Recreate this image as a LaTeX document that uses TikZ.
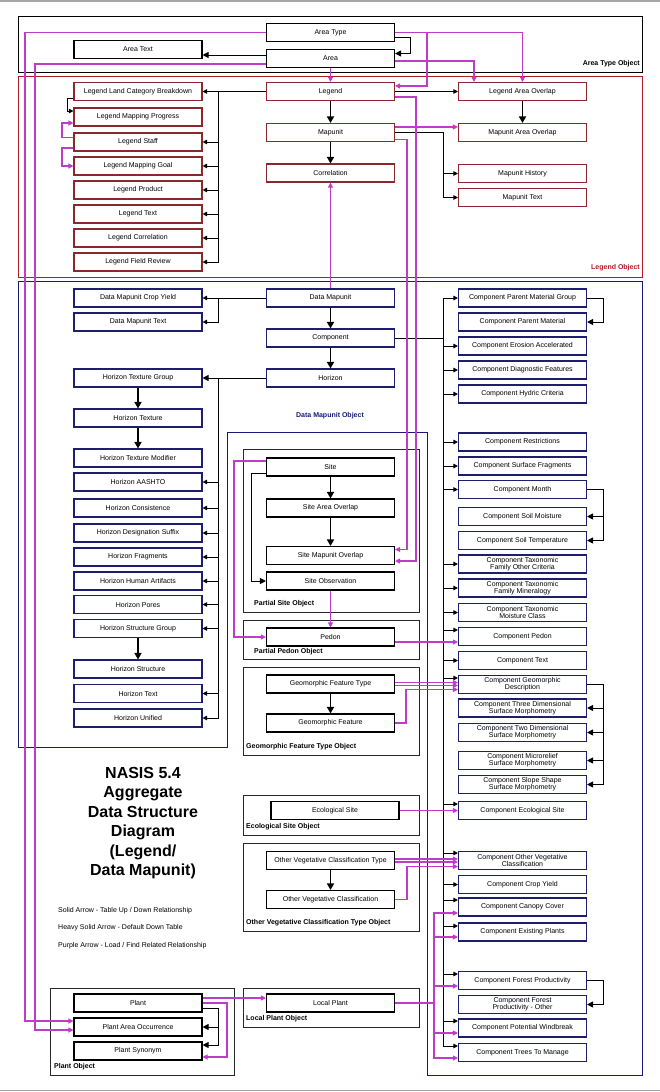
\documentclass[tikz,border=0pt]{standalone}
\usepackage{fontspec}
\setmainfont{Liberation Sans}
\usetikzlibrary{arrows.meta,calc}
\definecolor{purp}{RGB}{190,60,200}
\definecolor{lred}{RGB}{140,40,45}
\definecolor{fred}{RGB}{175,30,40}
\definecolor{nvy}{RGB}{30,30,110}
\definecolor{fnvy}{RGB}{25,25,120}
\definecolor{frm}{RGB}{40,40,40}
\newcommand\nbox[5]{\node[box,draw=#1] (#2) at (#3,#4) {#5};}
\begin{document}
\begin{tikzpicture}[x=1pt,y=-1pt,
  box/.style={fill=white, line width=1.1pt, minimum width=128pt, minimum height=18pt, inner sep=0pt, align=center, font=\fontsize{7}{7.3}\selectfont, text=black},
  lbl/.style={font=\fontsize{7}{8}\selectfont\bfseries, inner sep=0pt},
  frame/.style={draw=frm, line width=1pt},
  blk/.style={draw=black, line width=0.9pt, -{Triangle[length=4.5pt,width=4.5pt]}},
  blkH/.style={draw=black, line width=1pt, -{Triangle[length=6pt,width=6pt]}},
  hvy/.style={draw=black, line width=1.5pt, -{Triangle[length=6.5pt,width=7pt]}},
  pur/.style={draw=purp, line width=1.1pt, -{Triangle[length=5pt,width=5pt]}}]
\useasboundingbox (0,0) rectangle (660,1092);
\fill[white] (0,0) rectangle (660,1092);
\draw[gray!70, line width=1.5pt] (0,0.75) -- (660,0.75);
\draw[gray!70, line width=1.5pt] (0,1090.5) -- (660,1090.5);
% frames
\draw[frame, draw=black] (18,16) rectangle (642,72);
\draw[frame, draw=fred] (18,76) rectangle (642,277);
\draw[frame, draw=fnvy] (18,281) -- (642,281) -- (642,1075) -- (427,1075) -- (427,432) -- (227,432) -- (227,747) -- (18,747) -- cycle;
\draw[frame] (243,449) rectangle (419,612);
\draw[frame] (243,620) rectangle (419,659);
\draw[frame] (243,667) rectangle (419,755);
\draw[frame] (243,795) rectangle (419,835);
\draw[frame] (243,843) rectangle (419,931);
\draw[frame] (50,988) rectangle (234,1075);
\draw[frame] (243,988) rectangle (419,1027);
\node[lbl, anchor=east] (lblAT) at (640,64) {Area Type Object};
\node[lbl, anchor=east, text=fred] (lblLeg) at (640,268) {Legend Object};
\node[lbl, text=fnvy] (lblDM) at (330,416) {Data Mapunit Object};
\node[lbl, anchor=west] (lblPS) at (254,604) {Partial Site Object};
\node[lbl, anchor=west] (lblPP) at (254,652) {Partial Pedon Object};
\node[lbl, anchor=west] (lblGF) at (246,747) {Geomorphic Feature Type Object};
\node[lbl, anchor=west] (lblES) at (246,827) {Ecological Site Object};
\node[lbl, anchor=west] (lblOV) at (246,923) {Other Vegetative Classification Type Object};
\node[lbl, anchor=west] (lblLP) at (246,1019) {Local Plant Object};
\node[lbl, anchor=west] (lblPO) at (54,1067) {Plant Object};
% title and key
\node[font=\fontsize{16}{19.5}\selectfont\bfseries, align=center, inner sep=0pt] (title) at (143,823) {NASIS 5.4\\Aggregate\\Data Structure\\Diagram\\(Legend/\\Data Mapunit)};
\node[anchor=west, inner sep=0pt, font=\fontsize{7}{8}\selectfont] (k1) at (58,911) {Solid Arrow - Table Up / Down Relationship};
\node[anchor=west, inner sep=0pt, font=\fontsize{7}{8}\selectfont] (k2) at (58,928) {Heavy Solid Arrow - Default Down Table};
\node[anchor=west, inner sep=0pt, font=\fontsize{7}{8}\selectfont] (k3) at (58,946) {Purple Arrow - Load / Find Related Relationship};
% coordinates
\coordinate (bL) at (218,0);
\coordinate (bR) at (443,0);
\coordinate (lR) at (603,0);
\coordinate (pA) at (25,0);
\coordinate (pB) at (35,0);
\coordinate (pC) at (427,0);
\coordinate (pE) at (416,0);
\coordinate (pF) at (407,0);
\coordinate (pG) at (234,0);
\coordinate (pH) at (434,0);
\coordinate (pI) at (227,0);
\coordinate (kA) at (410,0);
\coordinate (kB) at (67,0);
\coordinate (kC) at (62,0);
\coordinate (kD) at (251,0);
\coordinate (kE) at (406,0);
% Area type
\nbox{black}{AT}{330.5}{32.5}{Area Type}
\nbox{black}{A}{330.5}{58.5}{Area}
\nbox{black}{ATx}{138}{49.5}{Area Text}
% Legend
\nbox{lred}{Leg}{330.5}{91.5}{Legend}
\nbox{lred}{MU}{330.5}{132.5}{Mapunit}
\nbox{lred}{Corr}{330.5}{173}{Correlation}
\nbox{lred}{LLCB}{138}{91.5}{Legend Land Category Breakdown}
\nbox{lred}{LMP}{138}{117}{Legend Mapping Progress}
\nbox{lred}{LS}{138}{142}{Legend Staff}
\nbox{lred}{LMG}{138}{166}{Legend Mapping Goal}
\nbox{lred}{LP}{138}{190}{Legend Product}
\nbox{lred}{LT}{138}{214}{Legend Text}
\nbox{lred}{LC}{138}{238}{Legend Correlation}
\nbox{lred}{LFR}{138}{262}{Legend Field Review}
\nbox{lred}{LAO}{522.5}{91.5}{Legend Area Overlap}
\nbox{lred}{MAO}{522.5}{132.5}{Mapunit Area Overlap}
\nbox{lred}{MH}{522.5}{173.5}{Mapunit History}
\nbox{lred}{MT}{522.5}{197.5}{Mapunit Text}
% Data mapunit
\nbox{nvy}{DM}{330.5}{298}{Data Mapunit}
\nbox{nvy}{Comp}{330.5}{338}{Component}
\nbox{nvy}{Hor}{330.5}{378}{Horizon}
\nbox{nvy}{DMCY}{138}{298}{Data Mapunit Crop Yield}
\nbox{nvy}{DMT}{138}{322}{Data Mapunit Text}
\nbox{nvy}{HTG}{138}{378}{Horizon Texture Group}
\nbox{nvy}{HT}{138}{418}{Horizon Texture}
\nbox{nvy}{HTM}{138}{458}{Horizon Texture Modifier}
\nbox{nvy}{HA}{138}{482}{Horizon AASHTO}
\nbox{nvy}{HC}{138}{508}{Horizon Consistence}
\nbox{nvy}{HDS}{138}{533}{Horizon Designation Suffix}
\nbox{nvy}{HF}{138}{557}{Horizon Fragments}
\nbox{nvy}{HHA}{138}{581}{Horizon Human Artifacts}
\nbox{nvy}{HP}{138}{604.5}{Horizon Pores}
\nbox{nvy}{HSG}{138}{628.5}{Horizon Structure Group}
\nbox{nvy}{HS}{138}{669}{Horizon Structure}
\nbox{nvy}{HTx}{138}{693.5}{Horizon Text}
\nbox{nvy}{HU}{138}{718}{Horizon Unified}
% Component column
\nbox{nvy}{CPMG}{522.5}{298}{Component Parent Material Group}
\nbox{nvy}{CPM}{522.5}{322}{Component Parent Material}
\nbox{nvy}{CEA}{522.5}{346}{Component Erosion Accelerated}
\nbox{nvy}{CDF}{522.5}{370}{Component Diagnostic Features}
\nbox{nvy}{CHC}{522.5}{394}{Component Hydric Criteria}
\nbox{nvy}{CR}{522.5}{442}{Component Restrictions}
\nbox{nvy}{CSF}{522.5}{466}{Component Surface Fragments}
\nbox{nvy}{CM}{522.5}{489.5}{Component Month}
\nbox{nvy}{CSM}{522.5}{516.5}{Component Soil Moisture}
\nbox{nvy}{CST}{522.5}{540.5}{Component Soil Temperature}
\nbox{nvy}{CTFOC}{522.5}{564}{Component Taxonomic\\Family Other Criteria}
\nbox{nvy}{CTFM}{522.5}{588}{Component Taxonomic\\Family Mineralogy}
\nbox{nvy}{CTMC}{522.5}{612.5}{Component Taxonomic\\Moisture Class}
\nbox{nvy}{CP}{522.5}{636.5}{Component Pedon}
\nbox{nvy}{CT}{522.5}{660.5}{Component Text}
\nbox{nvy}{CGD}{522.5}{684.5}{Component Geomorphic\\Description}
\nbox{nvy}{C3D}{522.5}{708}{Component Three Dimensional\\Surface Morphometry}
\nbox{nvy}{C2D}{522.5}{732.5}{Component Two Dimensional\\Surface Morphometry}
\nbox{nvy}{CMR}{522.5}{760.5}{Component Microrelief\\Surface Morphometry}
\nbox{nvy}{CSS}{522.5}{784.5}{Component Slope Shape\\Surface Morphometry}
\nbox{nvy}{CES}{522.5}{810.5}{Component Ecological Site}
\nbox{nvy}{COVC}{522.5}{860.5}{Component Other Vegetative\\Classification}
\nbox{nvy}{CCY}{522.5}{884.5}{Component Crop Yield}
\nbox{nvy}{CCC}{522.5}{907}{Component Canopy Cover}
\nbox{nvy}{CEP}{522.5}{932}{Component Existing Plants}
\nbox{nvy}{CFP}{522.5}{980.5}{Component Forest Productivity}
\nbox{nvy}{CFPO}{522.5}{1004.5}{Component Forest\\Productivity - Other}
\nbox{nvy}{CPW}{522.5}{1028}{Component Potential Windbreak}
\nbox{nvy}{CTTM}{522.5}{1052.5}{Component Trees To Manage}
% Site etc
\nbox{black}{Site}{330.5}{467}{Site}
\nbox{black}{SAO}{330.5}{508}{Site Area Overlap}
\nbox{black}{SMO}{330.5}{555.5}{Site Mapunit Overlap}
\nbox{black}{SO}{330.5}{581}{Site Observation}
\nbox{black}{Ped}{330.5}{637}{Pedon}
\nbox{black}{GFT}{330.5}{684}{Geomorphic Feature Type}
\nbox{black}{GF}{330.5}{723}{Geomorphic Feature}
\nbox{black}{ES}{335}{810.5}{Ecological Site}
\nbox{black}{OVCT}{330.5}{860.5}{Other Vegetative Classification Type}
\nbox{black}{OVC}{330.5}{899.5}{Other Vegetative Classification}
\nbox{black}{Plant}{138}{1003}{Plant}
\nbox{black}{PAO}{138}{1027}{Plant Area Occurrence}
\nbox{black}{PS}{138}{1051}{Plant Synonym}
\nbox{black}{LocP}{330.5}{1003}{Local Plant}
% ---- black connectors
\draw[blkH] ($(AT.east)+(0,5)$) -| ($(A.east -| kA)+(0,-5)$) -- ($(A.east)+(0,-5)$);
\draw[blkH] ($(A.west)+(0,-3.5)$) -- ($(ATx.east)+(0,5.5)$);
\draw[blk] (Leg.west) -- (LLCB.east);
\foreach \n in {LS,LMG,LP,LT,LC,LFR} \draw[blk] (Leg.west) -- (Leg.west -| bL) |- (\n.east);
\draw[blk] ($(LLCB.west)+(0,7)$) -| ($(LMP.west -| kB)+(0,-6)$) -- ($(LMP.west)+(0,-6)$);
\draw[hvy] (Leg.south) -- (MU.north);
\draw[hvy] (MU.south) -- (Corr.north);
\draw[blk] (Leg.east) -- (LAO.west);
\draw[hvy] (LAO.south) -- (MAO.north);
\foreach \n in {MH,MT} \draw[blk] (MU.east) -- (MU.east -| bR) |- (\n.west);
\draw[blk] (DM.west) -- (DMCY.east);
\draw[blk] (DM.west) -- (DM.west -| bL) |- (DMT.east);
\draw[hvy] (DM.south) -- (Comp.north);
\draw[hvy] (Comp.south) -- (Hor.north);
\foreach \n/\dy in {CPMG/0, CEA/0, CDF/0, CHC/0, CR/0, CSF/0, CM/0, CTFOC/0, CTFM/0, CTMC/0, CP/-6.5, CT/0, CGD/-6.5, CES/-6.5, COVC/-7.5, CCY/0, CCC/-7, CEP/-6, CFP/-6.5, CPW/-7, CTTM/-6.5}
  \draw[blk] (Comp.east) -- (Comp.east -| bR) |- ($(\n.west)+(0,\dy)$);
\draw[blkH] (CPMG.east) -- (CPMG.east -| lR) |- (CPM.east);
\foreach \n in {CSM,CST} \draw[blkH] (CM.east) -- (CM.east -| lR) |- (\n.east);
\foreach \n in {C3D,C2D,CMR,CSS} \draw[blkH] (CGD.east) -- (CGD.east -| lR) |- (\n.east);
\draw[blkH] (CFP.east) -- (CFP.east -| lR) |- (CFPO.east);
\draw[blkH] (Hor.west) -- (HTG.east);
\foreach \n in {HA,HC,HDS,HF,HHA,HP,HSG,HTx,HU} \draw[blk] (Hor.west) -- (Hor.west -| bL) |- (\n.east);
\draw[hvy] (HTG.south) -- (HT.north);
\draw[hvy] (HT.south) -- (HTM.north);
\draw[hvy] (HSG.south) -- (HS.north);
\draw[hvy] (Site.south) -- (SAO.north);
\draw[hvy] (SAO.south) -- (SMO.north);
\draw[blkH] ($(Site.west)+(0,6)$) -| (SO.west -| kD) -- (SO.west);
\draw[hvy] (GFT.south) -- (GF.north);
\draw[hvy] (OVCT.south) -- (OVC.north);
\draw[blkH] ($(Plant.east)+(0,5)$) -| (PAO.east -| bL) -- (PAO.east);
\draw[blkH] ($(Plant.east)+(0,5)$) -| ($(PS.east -| bL)+(0,-6)$) -- ($(PS.east)+(0,-6)$);
% ---- purple connectors
\draw[pur] (AT.west) -| ($(PAO.west -| pA)+(0,-6)$) -- ($(PAO.west)+(0,-6)$);
\draw[pur] ($(A.west)+(0,5.5)$) -| ($(PAO.west -| pB)+(0,3)$) -- ($(PAO.west)+(0,3)$);
\draw[pur] (AT.east) -| (LAO.north);
\draw[pur] (AT.east) -| ($(Leg.east -| pC)+(0,-5.5)$) -- ($(Leg.east)+(0,-5.5)$);
\draw[pur] (A.south) -- (Leg.north);
\draw[pur] ($(A.east)+(0,2.5)$) -| ($(LAO.north)+(-48.5,0)$);
\draw[pur] ($(LS.west)+(0,-4.5)$) -| ($(LMP.west -| kC)+(0,6)$) -- ($(LMP.west)+(0,6)$);
\draw[pur] ($(LS.west)+(0,6)$) -| (LMG.west -| kC) -- (LMG.west);
\draw[pur] ($(MU.east)+(0,-5.5)$) -- ($(MAO.west)+(0,-5.5)$);
\draw[pur] ($(Leg.east)+(0,5.5)$) -| ($(SMO.east -| pE)+(0,5.5)$) -- ($(SMO.east)+(0,5.5)$);
\draw[pur] ($(MU.east)+(0,7)$) -| ($(SMO.east -| pF)+(0,-6)$) -- ($(SMO.east)+(0,-6)$);
\draw[pur] (DM.north) -- (Corr.south);
\draw[pur] (SO.south) -- (Ped.north);
\draw[pur] ($(Site.west)+(0,-6)$) -| (Ped.west -| pG) -- (Ped.west);
\draw[pur] ($(Ped.east)+(0,5)$) -- ($(CP.west)+(0,5.5)$);
\draw[pur] ($(GFT.east)+(0,-1.5)$) -- ($(CGD.west)+(0,-2)$);
\draw[pur] ($(GFT.east)+(0,1.5)$) -- ($(CGD.west)+(0,1)$);
\draw[pur] (GF.east) -| ($(CGD.west -| kE)+(0,5)$) -- ($(CGD.west)+(0,5)$);
\draw[pur] (ES.east) -- (CES.west);
\draw[pur] ($(OVCT.east)+(0,-1.5)$) -- ($(COVC.west)+(0,-1.5)$);
\draw[pur] ($(OVCT.east)+(0,1.5)$) -- ($(COVC.west)+(0,1.5)$);
\draw[pur] (OVC.east) -| ($(COVC.west -| pF)+(0,6)$) -- ($(COVC.west)+(0,6)$);
\foreach \n/\dy in {CCC/6, CEP/5, CFP/5.5, CPW/5, CTTM/5.5}
  \draw[pur] (LocP.east) -| ($(\n.west -| pH)+(0,\dy)$) -- ($(\n.west)+(0,\dy)$);
\draw[pur] ($(Plant.east)+(0,-5)$) -- ($(LocP.west)+(0,-5)$);
\draw[pur] (Plant.east) -| ($(PS.east -| pI)+(0,6)$) -- ($(PS.east)+(0,6)$);
\end{tikzpicture}
\end{document}
